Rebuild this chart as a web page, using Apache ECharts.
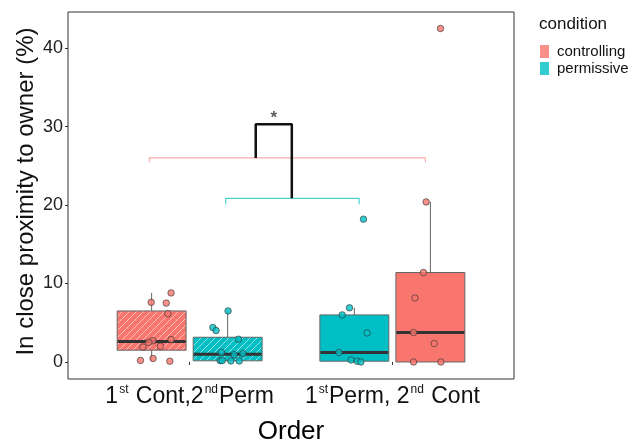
<!DOCTYPE html>
<html><head><meta charset="utf-8">
<script src="https://cdn.jsdelivr.net/npm/echarts@6/dist/echarts.min.js"></script>
<style>html,body{margin:0;padding:0;background:#fff}#c{width:628px;height:440px}</style>
</head><body><div id="c"></div>
<script>
// ---- data ----
const orders = ['1st Cont,2nd Perm', '1stPerm, 2nd Cont'];
const conditions = ['controlling', 'permissive'];
const yTicks = [0, 10, 20, 30, 40];
// box stats per order: [lowerWhisker, Q1, median, Q3, upperWhisker]
const boxControlling = [[0.2, 1.5, 2.6, 6.5, 8.8], [0, 0, 3.75, 11.4, 20.4]];
const boxPermissive = [[0.1, 0.15, 1.0, 3.15, 6.5], [0, 0.1, 1.2, 6.0, 6.9]];
// individual observations per order
const ptsControlling1 = [8.8, 7.6, 7.5, 6.15, 2.7, 2.5, 2.85, 1.9, 2.0, 0.2, 0.45, 0.1];
const ptsPermissive1 = [6.5, 4.4, 4.0, 2.9, 1.23, 0.93, 1.06, 0.17, 0.17, 0.13, 0.13];
const ptsPermissive2 = [18.2, 6.9, 6.0, 3.7, 1.2, 0.25, 0.1, 0.0];
const ptsControlling2 = [42.5, 20.4, 11.4, 8.15, 3.75, 2.35, 0.0, 0.0];
// horizontal jitter (axis units) of each observation
const jitControlling1 = [0.096, -0.002, 0.072, 0.080, 0.006, -0.014, 0.096, -0.043, 0.043, -0.055, 0.007, 0.090];
const jitPermissive1 = [0.002, -0.073, -0.057, 0.053, -0.031, 0.032, 0.075, -0.037, -0.027, 0.016, 0.057];
const jitPermissive2 = [0.045, -0.024, -0.060, 0.063, -0.076, -0.016, 0.014, 0.032];
const jitControlling2 = [0.050, -0.021, -0.034, -0.076, -0.083, 0.019, -0.083, 0.052];
// significance brackets (value levels)
const bracketControlling = {x: [0.801, 2.163], y: 26.0, drop: 0.55};
const bracketPermissive = {x: [1.178, 1.836], y: 20.85, drop: 0.75};
const bracketSig = {x: [1.326, 1.504], yLeft: 26.0, yTop: 30.3, yRight: 20.85, label: '*'};

// ---- styling ----
const COL = {controlling: '#F8766D', permissive: '#00BFC4'};
const FONT = '"Liberation Sans", Arial, sans-serif';
const dodge = 0.1875, halfW = 0.17;
const offsets = {controlling: [-dodge, dodge], permissive: [dodge, -dodge]};

function hatch(color) {
  const s = 7, c = document.createElement('canvas');
  c.width = s; c.height = s;
  const g = c.getContext('2d');
  g.fillStyle = color; g.fillRect(0, 0, s, s);
  g.strokeStyle = 'rgba(255,255,255,0.55)'; g.lineWidth = 1;
  g.beginPath();
  g.moveTo(-1, s + 1); g.lineTo(s + 1, -1);
  g.moveTo(-1, 1); g.lineTo(1, -1);
  g.moveTo(s - 1, s + 1); g.lineTo(s + 1, s - 1);
  g.stroke();
  return {image: c, repeat: 'repeat'};
}

const boxData = [];
[['controlling', boxControlling], ['permissive', boxPermissive]].forEach(([cond, arr]) => {
  arr.forEach((st, i) => {
    boxData.push([i + 1 + offsets[cond][i], st[0], st[1], st[2], st[3], st[4], cond === 'controlling' ? 0 : 1, i === 0 ? 1 : 0]);
  });
});
const fills = {
  0: [COL.controlling, hatch(COL.controlling)],
  1: [COL.permissive, hatch(COL.permissive)]
};

function renderBox(params, api) {
  const x = api.value(0);
  const p = k => api.coord([x, api.value(k)]);
  const l = api.coord([x - halfW, api.value(2)])[0];
  const r = api.coord([x + halfW, api.value(2)])[0];
  const cx = api.coord([x, 0])[0];
  const yMin = p(1)[1], yQ1 = p(2)[1], yMed = p(3)[1], yQ3 = p(4)[1], yMax = p(5)[1];
  const fill = fills[api.value(6)][api.value(7)];
  return {type: 'group', children: [
    {type: 'line', shape: {x1: cx, y1: yMax, x2: cx, y2: yQ3}, style: {stroke: '#666', lineWidth: 1}},
    {type: 'line', shape: {x1: cx, y1: yQ1, x2: cx, y2: yMin}, style: {stroke: '#666', lineWidth: 1}},
    {type: 'rect', shape: {x: l, y: yQ3, width: r - l, height: Math.max(yQ1 - yQ3, 1)}, style: {fill: fill, stroke: '#666', lineWidth: 1}},
    {type: 'line', shape: {x1: l + 0.5, y1: yMed, x2: r - 0.5, y2: yMed}, style: {stroke: '#333', lineWidth: 3}}
  ]};
}

function pts(vals, jit, order, cond) {
  return vals.map((v, i) => [order + offsets[cond][order - 1] + jit[i], v]);
}

const ptStyle = c => ({color: c, borderColor: '#333', borderWidth: 0.8});

const lineS = (data, color, width) => ({
  type: 'line', data: data, symbol: 'none', silent: true, z: 1,
  lineStyle: {color: color, width: width}, animation: false
});

const bc = bracketControlling, bp = bracketPermissive, bs = bracketSig;

const chart = echarts.init(document.getElementById('c'), null, {renderer: 'canvas'});
chart.setOption({
  animation: false,
  backgroundColor: '#fff',
  textStyle: {fontFamily: FONT},
  title: {text: 'condition', left: 534, top: 11, textStyle: {fontSize: 17, fontWeight: 'normal', color: '#111', fontFamily: FONT}},
  legend: {
    orient: 'vertical', left: 535, top: 39, itemGap: 2, itemWidth: 9, itemHeight: 13,
    icon: 'rect', data: conditions,
    itemStyle: {borderWidth: 0},
    textStyle: {fontSize: 15, color: '#111', fontFamily: FONT, padding: [0, 0, 0, 3]}
  },
  grid: {left: 68, right: 114, top: 12, bottom: 61, outerBoundsMode: 'none', containLabel: false,
    show: true, borderColor: '#333', borderWidth: 1, backgroundColor: '#fff'},
  xAxis: {
    type: 'value', min: 0.4, max: 2.6,
    name: 'Order', nameLocation: 'middle', nameGap: 40, nameMoveOverlap: false,
    nameTextStyle: {fontSize: 26, color: '#000', fontFamily: FONT},
    splitLine: {show: false}, axisLine: {show: false},
    axisTick: {show: true, customValues: [1, 2], length: 3, lineStyle: {color: '#333'}},
    axisLabel: {
      customValues: [1, 2], margin: 5,
      formatter: v => {
        if (Math.abs(v - 1) < 1e-6) return '{n|1}{s|st}{n| Cont,2}{s|nd}{n|Perm}';
        if (Math.abs(v - 2) < 1e-6) return '{n|1}{s|st}{n|Perm, 2}{s|nd}{n| Cont}';
        return '';
      },
      rich: {
        n: {fontSize: 23, color: '#111', fontFamily: FONT, lineHeight: 26},
        s: {fontSize: 12, color: '#111', fontFamily: FONT, verticalAlign: 'top', lineHeight: 15, padding: [0, 1, 0, 1]}
      }
    }
  },
  yAxis: {
    type: 'value', min: -2.17, max: 44.6,
    name: 'In close proximity to owner (%)', nameLocation: 'middle', nameGap: 30, nameMoveOverlap: false,
    nameTextStyle: {fontSize: 24, color: '#111', fontFamily: FONT, padding: [0, 0, 0, 8]},
    splitLine: {show: false}, axisLine: {show: false},
    axisTick: {show: true, customValues: yTicks, length: 3, lineStyle: {color: '#333'}},
    axisLabel: {customValues: yTicks, fontSize: 18, color: '#222', margin: 5, fontFamily: FONT}
  },
  series: [
    {type: 'custom', renderItem: renderBox, data: boxData, z: 2, silent: true, encode: {x: 0, y: [1, 5]}},
    lineS([[bc.x[0], bc.y - bc.drop], [bc.x[0], bc.y], [bc.x[1], bc.y], [bc.x[1], bc.y - bc.drop]], 'rgba(248,118,109,0.6)', 1.2),
    lineS([[bp.x[0], bp.y - bp.drop], [bp.x[0], bp.y], [bp.x[1], bp.y], [bp.x[1], bp.y - bp.drop]], 'rgba(0,191,196,0.7)', 1.2),
    lineS([[bs.x[0], bs.yLeft], [bs.x[0], bs.yTop], [bs.x[1], bs.yTop], [bs.x[1], bs.yRight]], '#111', 2.5),
    {
      type: 'scatter', name: 'controlling', z: 5, symbolSize: 6.5, silent: true,
      itemStyle: ptStyle(COL.controlling),
      data: pts(ptsControlling1, jitControlling1, 1, 'controlling').concat(pts(ptsControlling2, jitControlling2, 2, 'controlling'))
    },
    {
      type: 'scatter', name: 'permissive', z: 5, symbolSize: 6.5, silent: true,
      itemStyle: ptStyle(COL.permissive),
      data: pts(ptsPermissive1, jitPermissive1, 1, 'permissive').concat(pts(ptsPermissive2, jitPermissive2, 2, 'permissive'))
    },
    {
      type: 'scatter', z: 6, symbolSize: 0, silent: true,
      data: [[(bs.x[0] + bs.x[1]) / 2, bs.yTop]],
      label: {show: true, formatter: bs.label, position: 'top', distance: -3, fontSize: 17, fontWeight: 'bold', color: '#333', fontFamily: FONT}
    }
  ]
});
</script></body></html>
